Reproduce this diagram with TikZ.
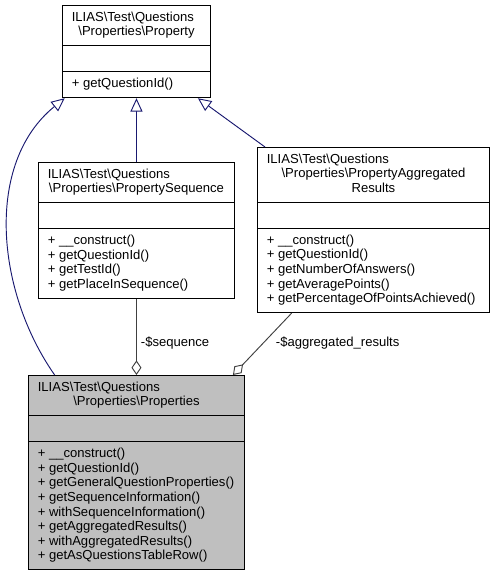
\documentclass[tikz,border=0pt]{standalone}
\usepackage{fontspec}
\setmainfont{Liberation Sans}
\usetikzlibrary{arrows.meta,shapes.multipart}
\definecolor{navy}{RGB}{25,25,112}
\definecolor{edgegray}{RGB}{64,64,64}
\definecolor{boxgray}{RGB}{191,191,191}
\begin{document}
\begin{tikzpicture}[x=0.75pt, y=-0.75pt,
    font=\fontsize{9.8}{10.93}\selectfont,
    cls/.style={draw, rectangle split, rectangle split parts=3,
        rectangle split part align={center,left,left},
        inner xsep=7pt, inner ysep=3.9pt, anchor=north west, line width=0.7pt, fill=white},
    inherit/.style={navy, line width=0.7pt, -{Triangle[fill=white, length=10pt, width=9pt]}},
    aggr/.style={edgegray, line width=0.7pt, -{Diamond[fill=white, length=11pt, width=7.5pt]}},
    role/.style={inner sep=1pt, text=black}]
  \useasboundingbox (0,0) rectangle (494,575);

  % classes
  \node[cls] (prop) at (62,5)
    {\begin{tabular}{@{}c@{}}\makebox[97pt][l]{ILIAS\textbackslash Test\textbackslash Questions}\\
     \textbackslash Properties\textbackslash Property\end{tabular}
     \nodepart{two}\strut
     \nodepart{three}\begin{tabular}{@{}l@{}}+ getQuestionId()\end{tabular}};
  \node[cls] (seq) at (38,162)
    {\begin{tabular}{@{}c@{}}\makebox[133pt][l]{ILIAS\textbackslash Test\textbackslash Questions}\\
     \textbackslash Properties\textbackslash PropertySequence\end{tabular}
     \nodepart{two}\strut
     \nodepart{three}\begin{tabular}{@{}l@{}}+ \_\_construct()\\
     + getQuestionId()\\
     + getTestId()\\
     + getPlaceInSequence()\end{tabular}};
  \node[cls] (aggr) at (257,147)
    {\begin{tabular}{@{}c@{}}\makebox[160pt][l]{ILIAS\textbackslash Test\textbackslash Questions}\\
     \textbackslash Properties\textbackslash PropertyAggregated\\
     Results\end{tabular}
     \nodepart{two}\strut
     \nodepart{three}\begin{tabular}{@{}l@{}}+ \_\_construct()\\
     + getQuestionId()\\
     + getNumberOfAnswers()\\
     + getAveragePoints()\\
     + getPercentageOfPointsAchieved()\end{tabular}};
  \node[cls, fill=boxgray] (props) at (28,375)
    {\begin{tabular}{@{}c@{}}\makebox[148pt][l]{ILIAS\textbackslash Test\textbackslash Questions}\\
     \textbackslash Properties\textbackslash Properties\end{tabular}
     \nodepart{two}\strut
     \nodepart{three}\begin{tabular}{@{}l@{}}+ \_\_construct()\\
     + getQuestionId()\\
     + getGeneralQuestionProperties()\\
     + getSequenceInformation()\\
     + withSequenceInformation()\\
     + getAggregatedResults()\\
     + withAggregatedResults()\\
     + getAsQuestionsTableRow()\end{tabular}};

  % generalisation
  \draw[inherit] (seq.north) -- (prop.south);
  \draw[inherit] ([xshift=6pt]aggr.north west) -- ([xshift=-9.75pt]prop.south east);
  \draw[inherit] ([xshift=20pt]props.north west) to[out=125, in=219, looseness=0.95]
    ([xshift=2pt]prop.south west);

  % aggregation
  \draw[aggr] (seq.south) -- node[role, right=2pt, pos=0.58] {-\$sequence} (props.north);
  \draw[aggr] ([xshift=26pt]aggr.south west) --
    node[role, right=8pt, pos=0.48] {-\$aggregated\_results} ([xshift=-9pt]props.north east);
\end{tikzpicture}
\end{document}
